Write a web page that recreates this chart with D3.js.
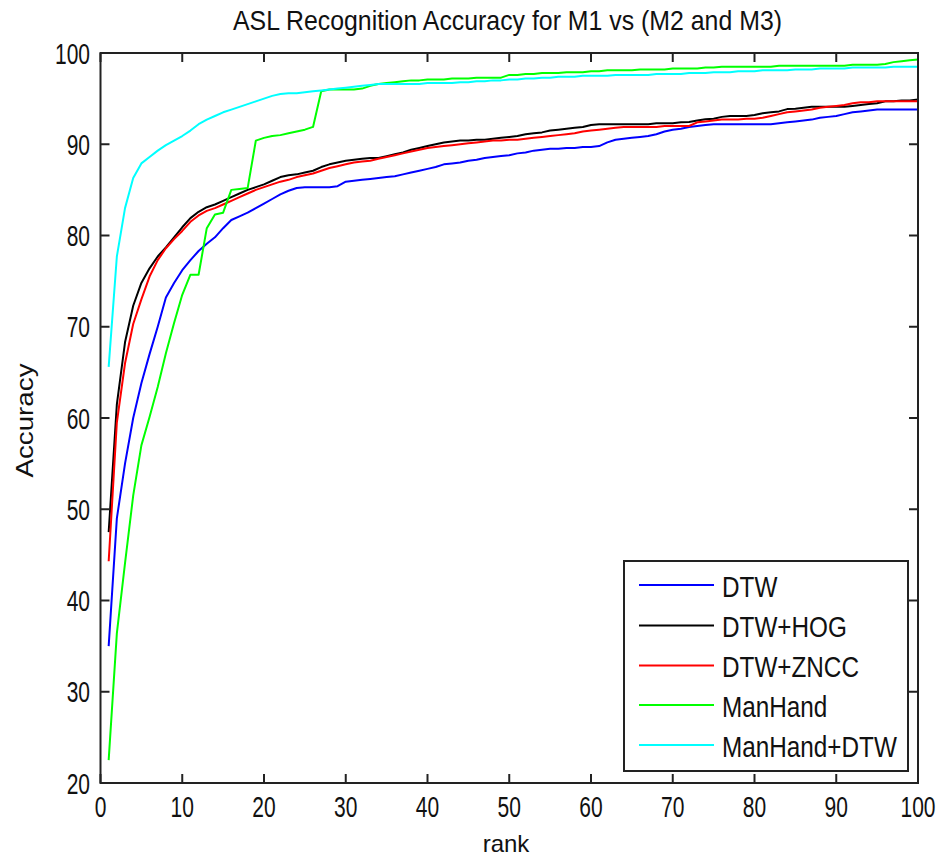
<!DOCTYPE html>
<html>
<head>
<meta charset="utf-8">
<script src="https://cdn.jsdelivr.net/npm/d3@7"></script>
<style>
  html, body { margin: 0; padding: 0; background: #fff; }
  text { font-family: "Liberation Sans", Arial, Helvetica, sans-serif; fill: #111; }
</style>
</head>
<body>
<svg id="chart" width="945" height="863"></svg>
<script>
const title = "ASL Recognition Accuracy for M1 vs (M2 and M3)";
const xLabel = "rank";
const yLabel = "Accuracy";
const xTicks = [0, 10, 20, 30, 40, 50, 60, 70, 80, 90, 100];
const yTicks = [20, 30, 40, 50, 60, 70, 80, 90, 100];
const seriesNames = ["DTW", "DTW+HOG", "DTW+ZNCC", "ManHand", "ManHand+DTW"];
const seriesColors = ["#0000ff", "#000000", "#ff0000", "#00ff00", "#00ffff"];
const ranks = d3.range(1, 101);

const dtw = [35.0,49.0,55.0,60.0,63.8,67.0,70.0,73.2,74.8,76.2,
  77.3,78.3,79.1,79.8,80.8,81.7,82.1,82.5,83.0,83.5,
  84.0,84.5,84.9,85.2,85.3,85.3,85.3,85.3,85.4,85.9,
  86.0,86.1,86.2,86.3,86.4,86.5,86.7,86.9,87.1,87.3,
  87.5,87.8,87.9,88.0,88.2,88.3,88.5,88.6,88.7,88.8,
  89.0,89.1,89.3,89.4,89.5,89.5,89.6,89.6,89.7,89.7,
  89.8,90.2,90.5,90.6,90.7,90.8,90.9,91.1,91.4,91.6,
  91.7,91.9,92.0,92.1,92.2,92.2,92.2,92.2,92.2,92.2,
  92.2,92.2,92.3,92.4,92.5,92.6,92.7,92.9,93.0,93.1,
  93.3,93.5,93.6,93.7,93.8,93.8,93.8,93.8,93.8,93.8];

const dtwHog = [47.5,61.5,68.3,72.3,74.8,76.4,77.7,78.7,79.8,80.9,
  81.9,82.6,83.1,83.4,83.8,84.2,84.6,85.0,85.3,85.6,
  86.0,86.4,86.6,86.7,86.9,87.1,87.5,87.8,88.0,88.2,
  88.3,88.4,88.5,88.5,88.7,88.9,89.1,89.4,89.6,89.8,
  90.0,90.2,90.3,90.4,90.4,90.5,90.5,90.6,90.7,90.8,
  90.9,91.1,91.2,91.3,91.5,91.6,91.7,91.8,91.9,92.1,
  92.2,92.2,92.2,92.2,92.2,92.2,92.2,92.3,92.3,92.3,
  92.4,92.45,92.6,92.75,92.8,93.0,93.1,93.1,93.1,93.2,
  93.4,93.5,93.6,93.85,93.9,94.0,94.1,94.1,94.1,94.1,
  94.1,94.2,94.3,94.4,94.5,94.7,94.7,94.8,94.8,94.9];

const dtwZncc = [44.3,59.5,66.0,70.3,73.0,75.5,77.3,78.6,79.6,80.5,
  81.5,82.2,82.7,83.0,83.4,83.8,84.2,84.6,85.0,85.3,
  85.6,85.9,86.1,86.4,86.6,86.8,87.1,87.4,87.6,87.8,
  88.0,88.1,88.2,88.4,88.6,88.8,89.0,89.2,89.4,89.6,
  89.7,89.8,89.9,90.0,90.1,90.2,90.3,90.4,90.4,90.5,
  90.5,90.6,90.7,90.8,90.9,91.0,91.1,91.2,91.4,91.5,
  91.6,91.7,91.8,91.9,91.9,91.9,91.9,91.9,92.0,92.0,
  92.0,92.0,92.4,92.5,92.6,92.7,92.7,92.7,92.8,92.8,
  92.9,93.1,93.3,93.5,93.6,93.7,93.8,94.0,94.1,94.2,
  94.3,94.5,94.6,94.6,94.7,94.7,94.7,94.7,94.7,94.7];

const manHand = [22.5,36.4,44.1,51.5,57.0,60.1,63.4,67.1,70.4,73.5,
  75.7,75.7,80.8,82.3,82.5,85.0,85.1,85.2,90.4,90.7,
  90.9,91.0,91.2,91.4,91.6,91.9,95.8,96.0,96.0,96.0,
  96.0,96.1,96.4,96.6,96.7,96.8,96.9,97.0,97.0,97.1,
  97.1,97.1,97.2,97.2,97.2,97.3,97.3,97.3,97.3,97.6,
  97.6,97.7,97.7,97.8,97.8,97.8,97.9,97.9,97.9,98.0,
  98.0,98.1,98.1,98.1,98.1,98.2,98.2,98.2,98.2,98.3,
  98.3,98.3,98.3,98.4,98.4,98.5,98.5,98.5,98.5,98.5,
  98.5,98.5,98.6,98.6,98.6,98.6,98.6,98.6,98.6,98.6,
  98.6,98.7,98.7,98.7,98.7,98.8,99.0,99.1,99.2,99.3];

const manHandDtw = [65.6,77.7,83.0,86.3,87.9,88.6,89.3,89.9,90.4,90.9,
  91.5,92.2,92.7,93.1,93.5,93.8,94.1,94.4,94.7,95.0,
  95.3,95.5,95.6,95.6,95.7,95.8,95.9,96.0,96.1,96.2,
  96.3,96.4,96.5,96.6,96.6,96.6,96.6,96.6,96.6,96.7,
  96.7,96.7,96.7,96.8,96.8,96.9,96.9,97.0,97.0,97.1,
  97.1,97.2,97.2,97.3,97.3,97.4,97.4,97.4,97.5,97.5,
  97.5,97.5,97.6,97.6,97.6,97.6,97.6,97.7,97.7,97.7,
  97.7,97.8,97.8,97.8,97.9,97.9,97.9,98.0,98.0,98.0,
  98.1,98.1,98.1,98.1,98.2,98.2,98.2,98.3,98.3,98.3,
  98.3,98.4,98.4,98.4,98.4,98.4,98.5,98.5,98.5,98.5];

const seriesValues = [dtw, dtwHog, dtwZncc, manHand, manHandDtw];

(function () {
const svg = d3.select("#chart");
const pLeft = 100.5, pRight = 918, pTop = 53, pBottom = 783;
const x = d3.scaleLinear().domain([0, 100]).range([pLeft, pRight]);
const y = d3.scaleLinear().domain([20, 100]).range([pBottom, pTop]);
const tickLen = 9;

// lines
const line = d3.line().x(d => x(d[0])).y(d => y(d[1]));
svg.append("clipPath").attr("id", "clip")
  .append("rect").attr("x", pLeft).attr("y", pTop).attr("width", pRight - pLeft).attr("height", pBottom - pTop);
const lineG = svg.append("g").attr("clip-path", "url(#clip)");
seriesValues.forEach((vals, i) => {
  lineG.append("path")
    .datum(ranks.map((r, j) => [r, vals[j]]))
    .attr("d", line)
    .attr("fill", "none")
    .attr("stroke", seriesColors[i])
    .attr("stroke-width", 2)
    .attr("stroke-linejoin", "round");
});

// axes box + ticks
const axG = svg.append("g").attr("stroke", "#222").attr("stroke-width", 2).attr("fill", "none");
xTicks.forEach(t => {
  axG.append("line").attr("x1", x(t)).attr("x2", x(t)).attr("y1", pBottom).attr("y2", pBottom - tickLen);
  axG.append("line").attr("x1", x(t)).attr("x2", x(t)).attr("y1", pTop).attr("y2", pTop + tickLen);
});
yTicks.forEach(t => {
  axG.append("line").attr("x1", pLeft).attr("x2", pLeft + tickLen).attr("y1", y(t)).attr("y2", y(t));
  axG.append("line").attr("x1", pRight).attr("x2", pRight - tickLen).attr("y1", y(t)).attr("y2", y(t));
});
axG.append("rect").attr("x", pLeft).attr("y", pTop).attr("width", pRight - pLeft).attr("height", pBottom - pTop);

// tick labels
xTicks.forEach(t => {
  svg.append("text")
    .attr("transform", `translate(${x(t)},817) scale(1,1.4)`)
    .attr("text-anchor", "middle")
    .attr("font-size", 21)
    .text(t);
});
yTicks.forEach(t => {
  svg.append("text")
    .attr("transform", `translate(90,${y(t) + 10.5}) scale(1,1.4)`)
    .attr("text-anchor", "end")
    .attr("font-size", 21)
    .text(t);
});

// title and axis labels
svg.append("text")
  .attr("transform", "translate(507.5,30) scale(1,1.1)")
  .attr("text-anchor", "middle")
  .attr("font-size", 24.4)
  .attr("textLength", 549)
  .attr("lengthAdjust", "spacingAndGlyphs")
  .text(title);
svg.append("text")
  .attr("transform", "translate(506,852)")
  .attr("text-anchor", "middle")
  .attr("font-size", 24)
  .text(xLabel);
svg.append("text")
  .attr("transform", "translate(33,420.5) rotate(-90)")
  .attr("text-anchor", "middle")
  .attr("font-size", 24)
  .attr("textLength", 114)
  .attr("lengthAdjust", "spacingAndGlyphs")
  .text(yLabel);

// legend
const lg = svg.append("g");
lg.append("rect").attr("x", 624).attr("y", 561).attr("width", 284).attr("height", 210)
  .attr("fill", "#fff").attr("stroke", "#222").attr("stroke-width", 2);
const rowY = [585, 625.5, 665.5, 705, 745];
seriesNames.forEach((name, i) => {
  lg.append("line").attr("x1", 639).attr("x2", 714).attr("y1", rowY[i]).attr("y2", rowY[i])
    .attr("stroke", seriesColors[i]).attr("stroke-width", 2);
  lg.append("text")
    .attr("transform", `translate(722,${rowY[i] + 11.5}) scale(1,1.2)`)
    .attr("font-size", 24.3)
    .text(name);
});
})();
</script>
</body>
</html>
